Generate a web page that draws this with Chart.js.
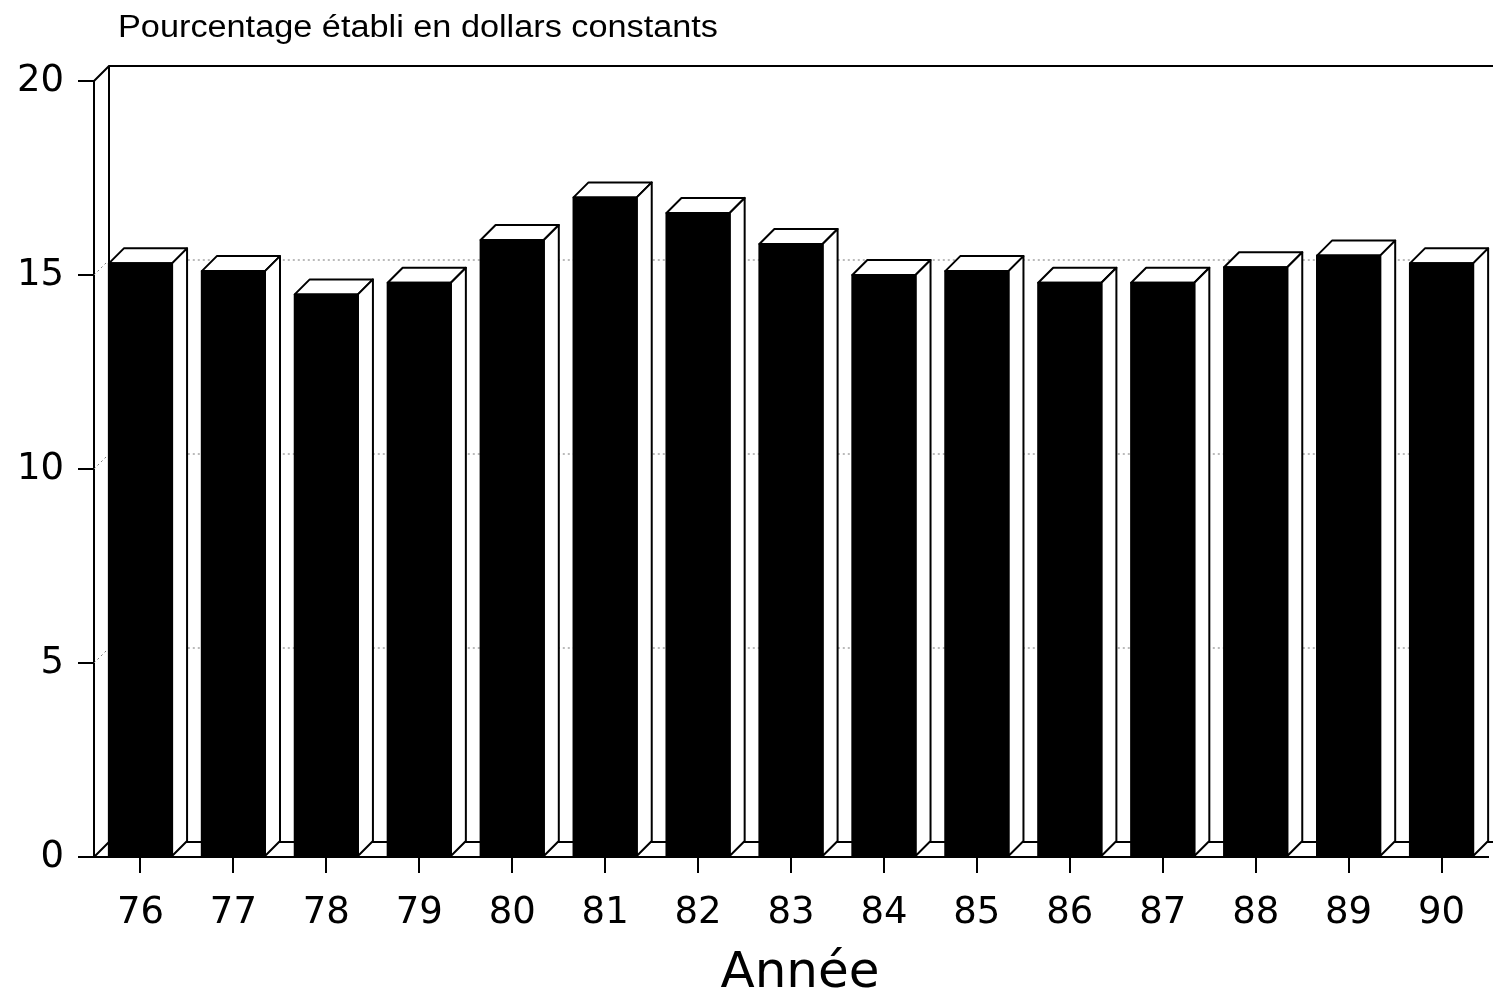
<!DOCTYPE html>
<html lang="fr">
<head>
<meta charset="utf-8">
<title>Pourcentage établi en dollars constants</title>
<script src="https://cdn.jsdelivr.net/npm/chart.js@4/dist/chart.umd.min.js"></script>
<style>
  html, body { margin: 0; padding: 0; background: #fff; }
  #wrap { width: 1493px; height: 996px; }
</style>
</head>
<body>
<div id="wrap"><canvas id="c" width="1493" height="996"></canvas></div>
<script>
// Années (axe horizontal)
const annees = ['76', '77', '78', '79', '80', '81', '82', '83', '84', '85', '86', '87', '88', '89', '90'];
// Pourcentage établi en dollars constants
const pourcentages = [15.3, 15.1, 14.5, 14.8, 15.9, 17.0, 16.6, 15.8, 15.0, 15.1, 14.8, 14.8, 15.2, 15.5, 15.3];
// Graduations de l'axe vertical
const graduations = [0, 5, 10, 15, 20];

const titre = 'Pourcentage établi en dollars constants';
const titreAxeX = 'Année';

const DEPTH = 15;          // profondeur de la perspective (px)
const INK = '#000';
const TICK_FONT = { family: '"DejaVu Sans", sans-serif', size: 37 };

// Murs, plancher et lignes de repère derrière les barres ; faces 3D des barres
const decor3d = {
  id: 'decor3d',
  beforeDatasetsDraw(chart) {
    const { ctx, chartArea: a, scales: { y } } = chart;
    const d = DEPTH;
    const right = chart.width;
    ctx.save();
    // lignes pointillées sur le mur du fond
    ctx.strokeStyle = '#777';
    ctx.lineWidth = 1;
    ctx.setLineDash([2, 3]);
    graduations.forEach(v => {
      if (v === 0 || v === y.max) return;
      const py = y.getPixelForValue(v);
      ctx.beginPath();
      ctx.moveTo(a.left, py);
      ctx.lineTo(a.left + d, py - d);
      ctx.lineTo(a.right, py - d);
      ctx.stroke();
    });
    ctx.setLineDash([]);
    ctx.strokeStyle = INK;
    ctx.lineWidth = 2;
    const top = y.getPixelForValue(y.max);
    const base = y.getPixelForValue(0);
    // arête haute, mur du fond et arête arrière du plancher
    ctx.beginPath();
    ctx.moveTo(a.left, top);
    ctx.lineTo(a.left + d, top - d);
    ctx.lineTo(right, top - d);
    ctx.moveTo(a.left + d, top - d);
    ctx.lineTo(a.left + d, base - d);
    ctx.lineTo(right, base - d);
    ctx.moveTo(a.left, base);
    ctx.lineTo(a.left + d, base - d);
    ctx.stroke();
    ctx.restore();
  },
  afterDatasetsDraw(chart) {
    const { ctx } = chart;
    const d = DEPTH;
    const meta = chart.getDatasetMeta(0);
    ctx.save();
    ctx.strokeStyle = INK;
    ctx.lineWidth = 2;
    ctx.lineJoin = 'round';
    meta.data.forEach(bar => {
      const { x, y, base, width } = bar.getProps(['x', 'y', 'base', 'width'], true);
      const l = x - width / 2, r = x + width / 2;
      // face supérieure
      ctx.beginPath();
      ctx.moveTo(l, y);
      ctx.lineTo(l + d, y - d);
      ctx.lineTo(r + d, y - d);
      ctx.lineTo(r, y);
      ctx.closePath();
      ctx.fillStyle = '#fff';
      ctx.fill();
      ctx.stroke();
      // face latérale droite
      ctx.beginPath();
      ctx.moveTo(r, y);
      ctx.lineTo(r + d, y - d);
      ctx.lineTo(r + d, base - d);
      ctx.lineTo(r, base);
      ctx.closePath();
      ctx.fill();
      ctx.stroke();
      // contour de la face avant
      ctx.strokeRect(l, y, width, base - y);
    });
    ctx.restore();
  },
  afterDraw(chart) {
    const { ctx, chartArea: a } = chart;
    ctx.save();
    ctx.fillStyle = INK;
    // titre, légèrement élargi
    ctx.font = '31px "Liberation Sans", Arial, sans-serif';
    ctx.textBaseline = 'alphabetic';
    ctx.textAlign = 'left';
    const w = ctx.measureText(titre).width;
    ctx.translate(118, 37);
    ctx.scale(600 / w, 1);
    ctx.fillText(titre, 0, 0);
    ctx.setTransform(1, 0, 0, 1, 0, 0);
    // titre de l'axe horizontal
    ctx.font = '50px "DejaVu Sans", sans-serif';
    ctx.textAlign = 'center';
    ctx.fillText(titreAxeX, (a.left + a.right) / 2 + 9, 987);
    ctx.restore();
  }
};

new Chart(document.getElementById('c'), {
  type: 'bar',
  data: {
    labels: annees,
    datasets: [{
      data: pourcentages,
      backgroundColor: INK,
      borderWidth: 0,
      barPercentage: 0.68,
      categoryPercentage: 1.0
    }]
  },
  options: {
    responsive: false,
    animation: false,
    devicePixelRatio: 1,
    layout: { padding: { top: 81, right: 5, left: 0, bottom: 0 } },
    plugins: {
      legend: { display: false },
      tooltip: { enabled: false },
      title: { display: false }
    },
    scales: {
      x: {
        offset: true,
        afterFit(s) { s.height = 139; },
        grid: {
          offset: false,
          drawOnChartArea: false,
          drawTicks: true,
          tickLength: 16,
          color: INK,
          lineWidth: 2
        },
        border: { display: true, color: INK, width: 2 },
        ticks: {
          color: INK,
          padding: 18,
          maxRotation: 0,
          font: TICK_FONT
        }
      },
      y: {
        min: 0,
        max: 20,
        afterFit(s) { s.width = 94; },
        afterBuildTicks(s) { s.ticks = graduations.map(v => ({ value: v })); },
        grid: {
          drawOnChartArea: false,
          drawTicks: true,
          tickLength: 16,
          color: INK,
          lineWidth: 2
        },
        border: { display: true, color: INK, width: 2 },
        ticks: {
          color: INK,
          padding: 14,
          font: TICK_FONT
        }
      }
    }
  },
  plugins: [decor3d]
});
</script>
</body>
</html>
